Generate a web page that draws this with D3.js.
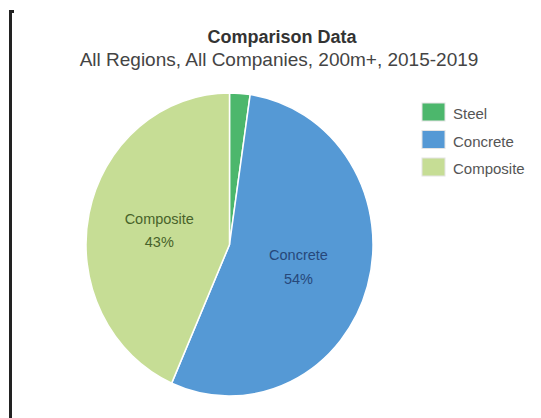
<!DOCTYPE html>
<html>
<head>
<meta charset="utf-8">
<script src="https://cdn.jsdelivr.net/npm/d3@7"></script>
<style>
  body { margin: 0; background: #fff; }
  text { font-family: "Liberation Sans", Arial, sans-serif; }
</style>
</head>
<body>
<div id="chart"></div>
<script>
const categories = ["Steel", "Concrete", "Composite"];
const values = [2.3, 54.3, 43.4];
const colors = ["#4cb76c", "#5599d5", "#c6dd95"];
const labelColors = ["#2e5a35", "#27487a", "#48632a"];
const showLabel = [false, true, true];

function drawPie() {
    const width = 541, height = 418;
    const cx = 229.5, cy = 244.5;
    const rx = 143.5, ry = 151.5;

    const svg = d3.select("#chart").append("svg")
        .attr("width", width)
        .attr("height", height);

    // frame line on the left
    svg.append("path")
        .attr("d", "M10.5,418 L10.5,11.5 L14,11.5")
        .attr("fill", "none")
        .attr("stroke", "#222")
        .attr("stroke-width", 3);

    // titles
    svg.append("text")
        .attr("x", 282)
        .attr("y", 43)
        .attr("text-anchor", "middle")
        .style("font-size", "18px")
        .style("font-weight", "bold")
        .style("fill", "#333")
        .text("Comparison Data");

    svg.append("text")
        .attr("x", 279)
        .attr("y", 65.5)
        .attr("text-anchor", "middle")
        .style("font-size", "19px")
        .style("fill", "#444")
        .text("All Regions, All Companies, 200m+, 2015-2019");

    const data = categories.map((c, i) => ({ name: c, value: values[i], color: colors[i], labelColor: labelColors[i], show: showLabel[i] }));

    const pie = d3.pie().sort(null).value(d => d.value);
    const arcs = pie(data);
    const arc = d3.arc().innerRadius(0).outerRadius(rx);

    const g = svg.append("g")
        .attr("transform", `translate(${cx},${cy}) scale(1,${ry / rx})`);

    g.selectAll("path.slice")
        .data(arcs)
        .enter()
        .append("path")
        .attr("class", "slice")
        .attr("d", arc)
        .attr("fill", d => d.data.color)
        .attr("stroke", "#fff")
        .attr("stroke-width", 1.5);

    const total = d3.sum(values);
    const labels = svg.selectAll("g.label")
        .data(arcs.filter(d => d.data.show))
        .enter()
        .append("g")
        .attr("class", "label")
        .attr("transform", d => {
            const c = arc.centroid(d);
            return `translate(${cx + c[0]},${cy + c[1] * ry / rx})`;
        });

    labels.append("text")
        .attr("text-anchor", "middle")
        .attr("y", -5)
        .style("font-size", "14.5px")
        .style("fill", d => d.data.labelColor)
        .text(d => d.data.name);

    labels.append("text")
        .attr("text-anchor", "middle")
        .attr("y", 18.5)
        .style("font-size", "14.5px")
        .style("fill", d => d.data.labelColor)
        .text(d => Math.round(d.data.value / total * 100) + "%");

    // legend
    const legend = svg.append("g")
        .attr("transform", "translate(422,103)");

    const items = legend.selectAll("g")
        .data(data)
        .enter()
        .append("g")
        .attr("transform", (d, i) => `translate(0,${i * 27.5})`);

    items.append("rect")
        .attr("width", 23)
        .attr("height", 18)
        .attr("fill", d => d.color)
        .attr("stroke", "#e4e4e4")
        .attr("stroke-width", 1);

    items.append("text")
        .attr("x", 31)
        .attr("y", 16)
        .style("font-size", "15px")
        .style("fill", "#555")
        .text(d => d.name);
}

drawPie();
</script>
</body>
</html>
